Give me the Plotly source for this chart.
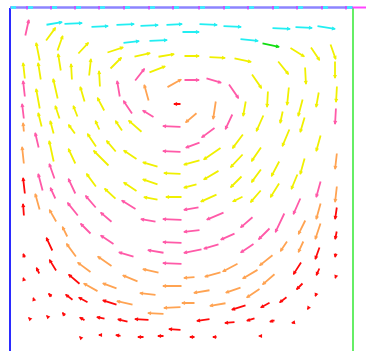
import plotly.graph_objects as go

# Lid-driven cavity: velocity vectors sampled inside a square cavity of side L.
# Each row is (x, y, u, v): sample position and velocity vector (same units).
L = 343

lid_fast = [  # cyan band, just under the moving lid
    (35, 326, 18, 3), (53, 327, 20, 1), (80, 324, 19, 1), (105, 326, 20, 1),
    (129, 325, 20, 1), (155, 326, 18, 1), (188, 327, 20, -1), (212, 325, 20, -1),
    (261, 323, 20, -1), (284, 324, 19, -1), (306, 325, 20, -3), (112, 308, 18, 2),
    (138, 310, 20, 1), (171, 319, 19, 0), (229, 312, 20, -2),
]
lid_peak = [(251, 308, 19, -4)]  # green band

upper = [  # yellow band
    (35, 309, 11, 15), (30, 289, -4, 20), (47, 299, 6, 17), (51, 279, -3, 19),
    (67, 296, 12, 13), (96, 298, 18, 6), (99, 281, 13, 13), (123, 294, 18, 4),
    (147, 294, 18, 3), (173, 295, 17, 0), (198, 294, 18, -1), (223, 293, 19, -4),
    (279, 304, 16, -10), (300, 305, 10, -15), (320, 308, 6, -17), (325, 291, 0, -19),
    (267, 291, 12, -15), (295, 285, 1, -19), (15, 271, -2, 18), (31, 270, -3, 19),
    (62, 270, -1, 18), (79, 274, 2, 19), (90, 263, -1, 18), (138, 278, 18, 7),
    (30, 241, -4, 22), (48, 251, -5, 22), (75, 248, -5, 17), (95, 239, -8, 15),
    (241, 278, 11, -16), (258, 261, -1, -18), (279, 265, -2, -20), (293, 253, -5, -19),
    (309, 260, -3, -17), (327, 266, -1, -18), (236, 251, -3, -17), (254, 237, -8, -18),
    (273, 241, -3, -14), (295, 235, -5, -17),
    (32, 223, -4, 16), (50, 231, -5, 15), (44, 216, -4, 15), (44, 188, -5, 23),
    (68, 233, -5, 13), (66, 216, -8, 11), (66, 186, -8, 17), (90, 220, -5, 11),
    (87, 203, -10, 15), (100, 184, -17, 17), (87, 163, -11, 15), (107, 151, -13, 12),
    (113, 219, -8, 12), (107, 198, -11, 13), (128, 191, -15, 10), (128, 159, -15, 10),
    (133, 218, -15, 13), (149, 184, -17, 5), (149, 166, -17, 6), (149, 151, -16, 3),
    (172, 177, -19, 1), (173, 154, -18, 0),
    (212, 204, -19, -13), (234, 218, -12, -16), (252, 205, -11, -16), (280, 223, -8, -19),
    (311, 217, -5, -18), (191, 191, -18, -5), (234, 198, -14, -15), (252, 183, -11, -15),
    (270, 191, -9, -17), (295, 194, -5, -18), (188, 167, -15, -4), (210, 181, -17, -10),
    (233, 176, -13, -13), (252, 162, -12, -14), (270, 169, -10, -16), (288, 178, -7, -17),
    (208, 157, -18, -8), (234, 155, -12, -6),
]

middle = [  # pink band
    (15, 314, 4, 18), (124, 269, 11, 14), (15, 253, -2, 18), (14, 231, -2, 17),
    (110, 253, -3, 18), (123, 236, -10, 15), (145, 233, -13, 8), (173, 271, 17, 0),
    (195, 273, 17, -5), (218, 268, 11, -16), (326, 244, -1, -18), (223, 238, -8, -17),
    (29, 202, -4, 17), (33, 159, -5, 19), (45, 171, -6, 17), (46, 151, -6, 13),
    (66, 156, -8, 17), (69, 134, -12, 15), (82, 116, -12, 12), (87, 142, -12, 14),
    (103, 128, -13, 11), (127, 141, -16, 10), (147, 129, -17, 3), (172, 224, -20, 1),
    (172, 199, -20, 1), (173, 131, -21, 1), (173, 108, -21, 1),
    (191, 209, -16, -6), (206, 224, -15, -11), (311, 171, -5, -18), (190, 144, -17, -3),
    (215, 139, -19, -8), (244, 135, -14, -12), (275, 139, -10, -21), (291, 154, -8, -18),
    (191, 121, -18, -2), (226, 118, -16, -7), (261, 124, -13, -13),
    (105, 106, -15, 10), (125, 94, -17, 5), (155, 98, -18, 3), (173, 87, -21, 1),
    (193, 102, -20, -4), (210, 107, -17, -5), (245, 108, -15, -10),
]

lower = [  # orange band
    (156, 263, 16, 9), (139, 249, -5, 18), (206, 251, -3, -20), (188, 239, -13, -11),
    (14, 218, -1, 11), (14, 186, -2, 19), (30, 140, -5, 18), (47, 128, -8, 14),
    (327, 199, -2, -18), (327, 166, -2, -18), (311, 149, -5, -18), (296, 132, -8, -16),
    (311, 129, -6, -18), (58, 113, -6, 12), (67, 93, -11, 15), (82, 78, -15, 11),
    (103, 84, -16, 11), (129, 69, -17, 7), (150, 78, -18, 4), (173, 65, -21, 0),
    (89, 59, -16, 9), (108, 62, -16, 6), (147, 56, -18, 2), (172, 44, -19, -1),
    (124, 46, -18, 4), (155, 37, -18, 1),
    (278, 111, -8, -12), (294, 111, -6, -13), (186, 74, -13, -1), (212, 79, -18, -5),
    (229, 88, -17, -9), (264, 97, -15, -12), (249, 82, -17, -10), (266, 78, -14, -12),
    (201, 61, -18, -3), (232, 64, -17, -6), (251, 63, -15, -10), (186, 48, -15, 0),
    (217, 48, -18, -3),
]

slow = [  # red band
    (172, 247, -9, 0), (15, 156, -2, 18), (14, 134, -1, 14), (327, 145, -2, -14),
    (327, 121, -2, -10), (43, 99, -7, 15), (15, 92, -2, 6), (30, 76, -4, 8),
    (47, 79, -8, 13), (14, 71, -1, 3), (71, 66, -13, 11), (24, 51, -1, 3),
    (43, 53, -5, 5), (64, 50, -9, 7), (79, 48, -11, 6), (108, 46, -16, 5),
    (19, 33, -1, 1), (37, 35, -1, 1), (56, 34, -4, 5), (76, 30, -7, 4),
    (96, 32, -10, 2), (119, 29, -12, 3), (140, 31, -16, 1), (172, 21, -14, 1),
    (32, 15, -1, 0), (48, 16, -1, 0), (70, 14, -1, 1), (93, 16, -5, 0),
    (112, 15, -7, 1), (135, 14, -8, 0), (155, 15, -8, 0),
    (310, 105, -5, -14), (326, 99, -1, -6), (292, 90, -9, -14), (310, 84, -4, -9),
    (326, 75, -1, -3), (294, 69, -8, -8), (307, 59, -2, -5), (326, 54, -1, -2),
    (237, 46, -16, -5), (261, 49, -11, -6), (278, 55, -9, -7), (299, 44, -2, -3),
    (201, 32, -15, -2), (226, 29, -12, -1), (246, 33, -10, -3), (266, 31, -7, -2),
    (286, 29, -5, -1), (307, 29, -1, 0), (329, 28, -1, 0), (186, 14, -7, 0),
    (208, 14, -6, 0), (251, 15, -3, 0), (272, 14, -2, 0), (295, 16, -1, 0),
    (316, 14, -1, 0),
]

# Lid velocity markers along the top wall
lid_marks = [0, 17, 41, 65, 89, 114, 139, 163, 189, 214, 238, 263, 287, 312, 336]

bands = [
    (lid_fast, "#22eef2"),
    (lid_peak, "#10dd10"),
    (upper, "#f0f000"),
    (middle, "#ff5aa8"),
    (lower, "#ffa352"),
    (slow, "#ff0a0a"),
]

fig = go.Figure()

annotations = []
for rows, colour in bands:
    for x, y, u, v in rows:
        annotations.append(dict(
            x=x + u, y=y + v, ax=x, ay=y,
            xref="x", yref="y", axref="x", ayref="y",
            text="", showarrow=True, arrowhead=2, arrowsize=0.45,
            arrowwidth=1.8, arrowcolor=colour, standoff=0, startstandoff=0,
        ))

shapes = [
    # walls
    dict(type="line", x0=0, y0=0, x1=0, y1=L, line=dict(color="#2b2bff", width=2)),
    dict(type="line", x0=L, y0=0, x1=L, y1=L, line=dict(color="#66ee66", width=2)),
    dict(type="line", x0=0, y0=L + 0.5, x1=L, y1=L + 0.5, line=dict(color="#8c84ff", width=2.5)),
    dict(type="line", x0=L, y0=L + 0.5, x1=L + 14, y1=L + 0.5, line=dict(color="#ff44ff", width=2)),
]
for m in lid_marks:
    shapes.append(dict(type="line", x0=m + 1, y0=L + 0.5, x1=m + 6, y1=L + 0.5,
                       line=dict(color="#33f0ff", width=2.5)))
    if m > 0:
        shapes.append(dict(type="line", x0=m, y0=L - 1.5, x1=m, y1=L + 2,
                           line=dict(color="#d040ff", width=1.5)))

fig.update_layout(
    width=366, height=351,
    margin=dict(l=0, r=0, t=0, b=0),
    paper_bgcolor="white", plot_bgcolor="white",
    xaxis=dict(range=[-10, 356], visible=False, fixedrange=True),
    yaxis=dict(range=[0, 351], visible=False, fixedrange=True),
    showlegend=False,
    annotations=annotations,
    shapes=shapes,
)

fig.write_html("out.html")
